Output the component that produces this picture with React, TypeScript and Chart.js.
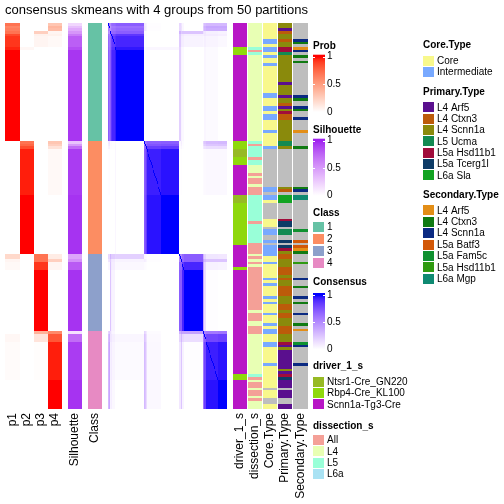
import React, { useEffect, useRef } from "react";
import { Chart, registerables } from "chart.js";

Chart.register(...registerables);

// ---------------- data ----------------
const TITLE = "consensus skmeans with 4 groups from 50 partitions";
const COLUMN_LABELS = ["p1", "p2", "p3", "p4", "Silhouette", "Class", "driver_1_s", "dissection_s", "Core.Type", "Primary.Type", "Secondary.Type"];

type Run<T> = [T, number];
const NA = "NA";

const classRuns: Run<number>[] = [[1, 44], [2, 42], [3, 29], [4, 29]];

const p1Runs: Run<number>[] = [[0.7, 1], [0.62, 1], [0.65, 1], [0.7, 1], [0.86, 1], [0.92, 4], [0.96, 1], [1, 34], [0, 42], [0.2, 2], [0.05, 1], [0.03, 3], [0, 23], [0, 1], [0.04, 3], [0.02, 14], [0, 11]];
const p2Runs: Run<number>[] = [[0, 9], [0.04, 1], [0, 34], [0.7, 1], [0.75, 1], [0.85, 1], [0.97, 17], [1, 22], [0, 29], [0, 29]];
const p3Runs: Run<number>[] = [[0, 3], [0.25, 1], [0.07, 1], [0.05, 4], [0, 35], [0, 42], [0.7, 2], [0.7, 1], [0.92, 3], [1, 23], [0.4, 1], [0.14, 3], [0.01, 14], [0, 11]];
const p4Runs: Run<number>[] = [[0.3, 1], [0.38, 1], [0.35, 1], [0.05, 1], [0.07, 1], [0.03, 4], [0, 35], [0.3, 1], [0.25, 1], [0.15, 1], [0.03, 17], [0, 22], [0.1, 2], [0.25, 1], [0.05, 3], [0, 23], [0.6, 1], [0.82, 3], [0.97, 14], [1, 11]];
const silhouetteRuns: Run<number>[] = [[0.2, 1], [0.32, 1], [0.42, 1], [0.52, 1], [0.65, 1], [0.78, 4], [0.85, 1], [0.94, 34], [0.3, 1], [0.5, 1], [0.72, 1], [0.92, 17], [0.95, 22], [0.45, 2], [0.55, 1], [0.8, 3], [0.95, 23], [0.15, 1], [0.72, 3], [0.92, 14], [0.95, 11]];

const S = "Scnn1a-Tg3-Cre", R = "Rbp4-Cre_KL100", N = "Ntsr1-Cre_GN220";
const driverRuns: Run<string>[] = [[S, 9], [R, 3], [S, 32], [R, 3], [N, 3], [R, 3], [S, 11], [N, 3], [R, 16], [S, 8], [R, 1], [S, 39], [R, 2], [S, 11]];

const dissectionRuns: Run<string>[] = [["L4", 9], ["L5", 1], ["All", 1], ["L5", 1], ["L4", 32], ["L5", 1], ["All", 1], ["L5", 4], ["All", 1], ["L5", 2], ["L4", 3], ["All", 1], ["L4", 1], ["All", 2], ["L4", 1], ["All", 3], ["L5", 10], ["All", 1], ["L5", 7], ["All", 4], ["L4", 1], ["All", 1], ["L4", 1], ["All", 1], ["L4", 1], ["All", 16], ["L4", 1], ["All", 3], ["L4", 2], ["All", 3], ["L4", 15], ["L5", 1], ["All", 1], ["L4", 1], ["All", 2], ["L4", 1], ["All", 2], ["L4", 1], ["All", 1], ["L4", 3]];

const C = "Core", I = "Intermediate";
const coreRuns: Run<string>[] = [[C, 6], [I, 2], [C, 1], [I, 2], [C, 1], [I, 1], [C, 2], [I, 1], [C, 10], [I, 2], [C, 3], [I, 2], [C, 1], [I, 2], [C, 4], [I, 1], [C, 5], [I, 1], [NA, 14], [I, 2], [NA, 1], [I, 2], [C, 1], [NA, 6], [C, 3], [NA, 1], [I, 2], [NA, 2], [I, 1], [NA, 1], [I, 4], [C, 2], [I, 1], [C, 5], [I, 1], [C, 1], [I, 1], [C, 4], [I, 1], [C, 1], [I, 1], [C, 3], [I, 1], [C, 3], [I, 1], [C, 1], [I, 2], [C, 3], [I, 2], [C, 6], [I, 1], [C, 8], [NA, 1], [C, 3], [NA, 2], [C, 2]];

const ARF = "L4 Arf5", CTX = "L4 Ctxn3", SCN = "L4 Scnn1a", UCM = "L5 Ucma", HSD = "L5a Hsd11b1", TCE = "L5a Tcerg1l", SLA = "L6a Sla";
const primaryRuns: Run<string>[] = [[SCN, 2], [ARF, 1], [CTX, 1], [SCN, 2], [CTX, 1], [SCN, 2], [HSD, 2], [UCM, 1], [SCN, 10], [ARF, 1], [SCN, 4], [ARF, 1], [SCN, 2], [CTX, 1], [ARF, 1], [SCN, 1], [HSD, 1], [CTX, 2], [SCN, 8], [UCM, 2], [SCN, 1], [NA, 14], [SCN, 1], [CTX, 1], [NA, 1], [SLA, 3], [NA, 6], [HSD, 1], [TCE, 2], [NA, 1], [UCM, 2], [NA, 2], [TCE, 1], [NA, 1], [TCE, 1], [HSD, 1], [SCN, 1], [CTX, 2], [SCN, 3], [CTX, 3], [SCN, 1], [CTX, 1], [SCN, 2], [CTX, 4], [SCN, 3], [CTX, 2], [SCN, 1], [CTX, 2], [SCN, 3], [CTX, 3], [SCN, 3], [HSD, 1], [ARF, 1], [SCN, 1], [ARF, 7], [SCN, 1], [ARF, 1], [HSD, 1], [TCE, 1], [ARF, 3], [NA, 1], [ARF, 3], [NA, 2], [ARF, 2]];

const BAT = "L5a Batf3", FAM = "L5a Fam5c", MGP = "L6a Mgp";
const secondaryRuns: Run<string>[] = [[NA, 6], [SCN, 1], [CTX, 1], [NA, 1], [ARF, 1], [SCN, 1], [NA, 1], [CTX, 1], [NA, 1], [CTX, 1], [NA, 12], [SCN, 1], [CTX, 1], [NA, 2], [SCN, 1], [CTX, 1], [NA, 2], [SCN, 1], [NA, 4], [ARF, 1], [NA, 5], [CTX, 1], [NA, 14], [CTX, 1], [SCN, 1], [NA, 1], [MGP, 2], [NA, 11], [FAM, 1], [NA, 3], [BAT, 1], [NA, 1], [BAT, 1], [ARF, 1], [CTX, 1], [NA, 3], [HSD, 1], [NA, 5], [SCN, 1], [NA, 2], [CTX, 1], [NA, 3], [SCN, 1], [NA, 1], [CTX, 1], [NA, 3], [SCN, 1], [NA, 3], [CTX, 1], [NA, 1], [ARF, 1], [NA, 4], [FAM, 1], [SCN, 1], [NA, 6], [SCN, 1], [NA, 16]];

const classLevels = ["1", "2", "3", "4"];
const driverLevels = [N, R, S];
const dissectionLevels = ["All", "L4", "L5", "L6a"];
const coreLevels = [C, I];
const primaryLevels = [ARF, CTX, SCN, UCM, HSD, TCE, SLA];
const secondaryLevels = [ARF, CTX, SCN, BAT, FAM, HSD, MGP];

// ---------------- styles ----------------
const FONT = "'Liberation Sans', Arial, Helvetica, sans-serif";
const NA_COLOR = "#BEBEBE";
const classColors: Record<string, string> = { "1": "#66C2A5", "2": "#FC8D62", "3": "#8DA0CB", "4": "#E78AC3" };
const driverColors: Record<string, string> = { [N]: "#97BA24", [R]: "#8FD80C", [S]: "#B816C6" };
const dissectionColors: Record<string, string> = { All: "#F4A097", L4: "#E8FFB4", L5: "#99FFD8", L6a: "#A9E2F3" };
const coreColors: Record<string, string> = { [C]: "#F8F88C", [I]: "#78A9FF" };
const primaryColors: Record<string, string> = { [ARF]: "#5A0F8E", [CTX]: "#BC5B0A", [SCN]: "#8A8A0C", [UCM]: "#138A52", [HSD]: "#A00C3B", [TCE]: "#0D3B66", [SLA]: "#12A322" };
const secondaryColors: Record<string, string> = { [ARF]: "#E38E17", [CTX]: "#107A12", [SCN]: "#0B2A82", [BAT]: "#D25808", [FAM]: "#0F9130", [HSD]: "#2F9A10", [MGP]: "#0F8A72" };

const expand = <T,>(runs: Run<T>[]): T[] => runs.flatMap(([v, n]) => Array.from({ length: n }, () => v));

// ---------- LAB colour ramp (white -> colour) ----------
function hexToRgb(h: string) {
  const n = parseInt(h.slice(1), 16);
  return [(n >> 16) & 255, (n >> 8) & 255, n & 255];
}
function toLin(c: number) { c /= 255; return c <= 0.04045 ? c / 12.92 : Math.pow((c + 0.055) / 1.055, 2.4); }
function toSrgb(c: number) {
  const v = c <= 0.0031308 ? 12.92 * c : 1.055 * Math.pow(Math.max(c, 0), 1 / 2.4) - 0.055;
  return Math.round(Math.max(0, Math.min(1, v)) * 255);
}
function rgbToLab(rgb: number[]) {
  const [r, g, b] = rgb.map(toLin);
  const X = (0.4124 * r + 0.3576 * g + 0.1805 * b) / 0.95047;
  const Y = 0.2126 * r + 0.7152 * g + 0.0722 * b;
  const Z = (0.0193 * r + 0.1192 * g + 0.9505 * b) / 1.08883;
  const f = (t: number) => (t > 0.008856 ? Math.cbrt(t) : 7.787 * t + 16 / 116);
  const fx = f(X), fy = f(Y), fz = f(Z);
  return [116 * fy - 16, 500 * (fx - fy), 200 * (fy - fz)];
}
function labToCss(L: number, a: number, b: number) {
  const fy = (L + 16) / 116, fx = fy + a / 500, fz = fy - b / 200;
  const inv = (t: number) => (t * t * t > 0.008856 ? t * t * t : (t - 16 / 116) / 7.787);
  const X = 0.95047 * inv(fx), Y = inv(fy), Z = 1.08883 * inv(fz);
  const r = 3.2406 * X - 1.5372 * Y - 0.4986 * Z;
  const g = -0.9689 * X + 1.8758 * Y + 0.0415 * Z;
  const bb = 0.0557 * X - 0.204 * Y + 1.057 * Z;
  return `rgb(${toSrgb(r)},${toSrgb(g)},${toSrgb(bb)})`;
}
const rampCache = new Map<string, string>();
function ramp(hex: string, t: number) {
  const tt = Math.max(0, Math.min(1, t));
  const key = hex + ":" + Math.round(tt * 1000);
  const hit = rampCache.get(key);
  if (hit) return hit;
  const w = rgbToLab([255, 255, 255]);
  const c = rgbToLab(hexToRgb(hex));
  const col = labToCss(w[0] + (c[0] - w[0]) * tt, w[1] + (c[1] - w[1]) * tt, w[2] + (c[2] - w[2]) * tt);
  rampCache.set(key, col);
  return col;
}

// ---------- layout (x-scale units; chart area spans 303 units) ----------
const X_MAX = 303;
const P_SLOTS = [[0, 15], [15, 29], [29, 43], [43, 57]];
const SIL_SLOT = [63, 77];
const CLASS_SLOT = [83, 97];
const CONS_SLOT = [103, 222];
const ANNO_SLOTS = [[228, 242], [243, 257], [258, 272], [273, 287], [288, 303]];

const heatmapPlugin = {
  id: "consensusHeatmap",
  afterDraw(chart: any) {
    const { ctx } = chart;
    const xs = chart.scales.x, ys = chart.scales.y;
    const px = (u: number) => Math.round(xs.getPixelForValue(u));
    const py = (r: number) => Math.round(ys.getPixelForValue(r));

    const cls = expand(classRuns);
    const n = cls.length;
    const probs = [expand(p1Runs), expand(p2Runs), expand(p3Runs), expand(p4Runs)];
    const sil = expand(silhouetteRuns);
    const annos = [
      { v: expand(driverRuns), c: driverColors },
      { v: expand(dissectionRuns), c: dissectionColors },
      { v: expand(coreRuns), c: coreColors },
      { v: expand(primaryRuns), c: primaryColors },
      { v: expand(secondaryRuns), c: secondaryColors },
    ];

    ctx.save();
    const cell = (x0: number, x1: number, y0: number, y1: number, color: string) => {
      ctx.fillStyle = color;
      ctx.fillRect(x0, y0, x1 - x0, y1 - y0);
    };

    const colEdges: number[] = [];
    for (let j = 0; j <= n; j++) colEdges.push(px(CONS_SLOT[0] + (j * (CONS_SLOT[1] - CONS_SLOT[0])) / n));

    for (let r = 0; r < n; r++) {
      const y0 = py(r), y1 = py(r + 1);
      P_SLOTS.forEach(([a, b], k) => cell(px(a), px(b), y0, y1, ramp("#FF0000", probs[k][r])));
      cell(px(SIL_SLOT[0]), px(SIL_SLOT[1]), y0, y1, ramp("#A020F0", sil[r]));
      cell(px(CLASS_SLOT[0]), px(CLASS_SLOT[1]), y0, y1, classColors[String(cls[r])]);
      for (let j = 0; j < n; j++) {
        let v = 1;
        if (j !== r) {
          v = 0;
          for (let k = 0; k < 4; k++) v += probs[k][r] * probs[k][j];
        }
        cell(colEdges[j], colEdges[j + 1], y0, y1, ramp("#0000FF", v));
      }
      ANNO_SLOTS.forEach(([a, b], k) => {
        const val = annos[k].v[r];
        cell(px(a), px(b), y0, y1, val === NA ? NA_COLOR : annos[k].c[val]);
      });
    }

    // title
    ctx.fillStyle = "#000";
    ctx.font = `13px ${FONT}`;
    ctx.textAlign = "center";
    ctx.textBaseline = "alphabetic";
    ctx.fillText(TITLE, (px(0) + px(X_MAX)) / 2, 14);

    // bottom labels
    const slots = [...P_SLOTS, SIL_SLOT, CLASS_SLOT, ...ANNO_SLOTS];
    ctx.font = `12px ${FONT}`;
    const labelTop = py(n) + 4;
    slots.forEach(([a, b], k) => {
      ctx.save();
      ctx.translate((xs.getPixelForValue(a) + xs.getPixelForValue(b)) / 2, labelTop);
      ctx.rotate(-Math.PI / 2);
      ctx.textAlign = "right";
      ctx.textBaseline = "middle";
      ctx.fillText(COLUMN_LABELS[k], 0, 0);
      ctx.restore();
    });

    // legends
    const titleText = (t: string, x: number, y: number) => {
      ctx.font = `bold 10px ${FONT}`;
      ctx.textAlign = "left";
      ctx.textBaseline = "middle";
      ctx.fillStyle = "#000";
      ctx.fillText(t, x, y);
    };
    const gradLegend = (x: number, ty: number, t: string, hex: string, yOne: number, yZero: number) => {
      titleText(t, x, ty);
      const g = ctx.createLinearGradient(0, yZero, 0, yOne);
      for (let i = 0; i <= 20; i++) g.addColorStop(i / 20, ramp(hex, i / 20));
      ctx.fillStyle = g;
      ctx.fillRect(x, yOne - 2, 12, yZero - yOne + 3);
      ctx.strokeStyle = "#FFFFFF";
      ctx.lineWidth = 1;
      [yOne, (yOne + yZero) / 2].forEach((yy) => {
        ctx.beginPath();
        ctx.moveTo(x, Math.round(yy) + 0.5); ctx.lineTo(x + 2, Math.round(yy) + 0.5);
        ctx.moveTo(x + 10, Math.round(yy) + 0.5); ctx.lineTo(x + 12, Math.round(yy) + 0.5);
        ctx.stroke();
      });
      ctx.font = `10px ${FONT}`;
      ctx.fillStyle = "#000";
      ctx.textBaseline = "middle";
      ctx.fillText("1", x + 14, yOne);
      ctx.fillText("0.5", x + 14, (yOne + yZero) / 2);
      ctx.fillText("0", x + 14, yZero);
    };
    const discLegend = (x: number, ty: number, t: string, levels: string[], colors: Record<string, string>, y0: number, step: number) => {
      titleText(t, x, ty);
      ctx.font = `10px ${FONT}`;
      levels.forEach((lv, i) => {
        const yc = y0 + i * step;
        ctx.fillStyle = colors[lv];
        ctx.fillRect(x, Math.round(yc - 5), 11, 10);
        ctx.fillStyle = "#000";
        ctx.fillText(lv, x + 14, yc + 0.5);
      });
    };

    const L1 = 313, L2 = 423;
    gradLegend(L1, 46, "Prob", "#FF0000", 56.7, 112);
    gradLegend(L1, 130, "Silhouette", "#A020F0", 140.7, 195.7);
    discLegend(L1, 213.7, "Class", classLevels, classColors, 226.7, 12);
    gradLegend(L1, 282.7, "Consensus", "#0000FF", 295, 349.3);
    discLegend(L1, 366.7, "driver_1_s", driverLevels, driverColors, 381.7, 11.3);
    discLegend(L1, 426, "dissection_s", dissectionLevels, dissectionColors, 440, 11.3);
    discLegend(L2, 45.7, "Core.Type", coreLevels, coreColors, 60.7, 11.2);
    discLegend(L2, 92.7, "Primary.Type", primaryLevels, primaryColors, 107.3, 11.35);
    discLegend(L2, 195.7, "Secondary.Type", secondaryLevels, secondaryColors, 210.3, 11.4);

    ctx.restore();
  },
};

export default function App() {
  const ref = useRef<HTMLCanvasElement | null>(null);
  useEffect(() => {
    document.body.style.margin = "0";
    const canvas = ref.current;
    if (!canvas) return;
    const nRows = expand(classRuns).length;
    const chart = new Chart(canvas, {
      type: "scatter",
      data: { datasets: [{ data: [] }] },
      options: {
        animation: false,
        responsive: false,
        maintainAspectRatio: false,
        events: [],
        layout: { padding: { left: 5, right: 504 - 308, top: 23, bottom: 504 - 409 } },
        plugins: { legend: { display: false }, tooltip: { enabled: false }, title: { display: false } },
        scales: {
          x: { type: "linear", min: 0, max: X_MAX, display: false },
          y: { type: "linear", min: 0, max: nRows, reverse: true, display: false },
        },
      },
      plugins: [heatmapPlugin],
    } as any);
    return () => chart.destroy();
  }, []);
  return (
    <div style={{ position: "absolute", left: 0, top: 0, width: 504, height: 504, background: "#fff" }}>
      <canvas ref={ref} width={504} height={504} style={{ display: "block", width: 504, height: 504 }} />
    </div>
  );
}
